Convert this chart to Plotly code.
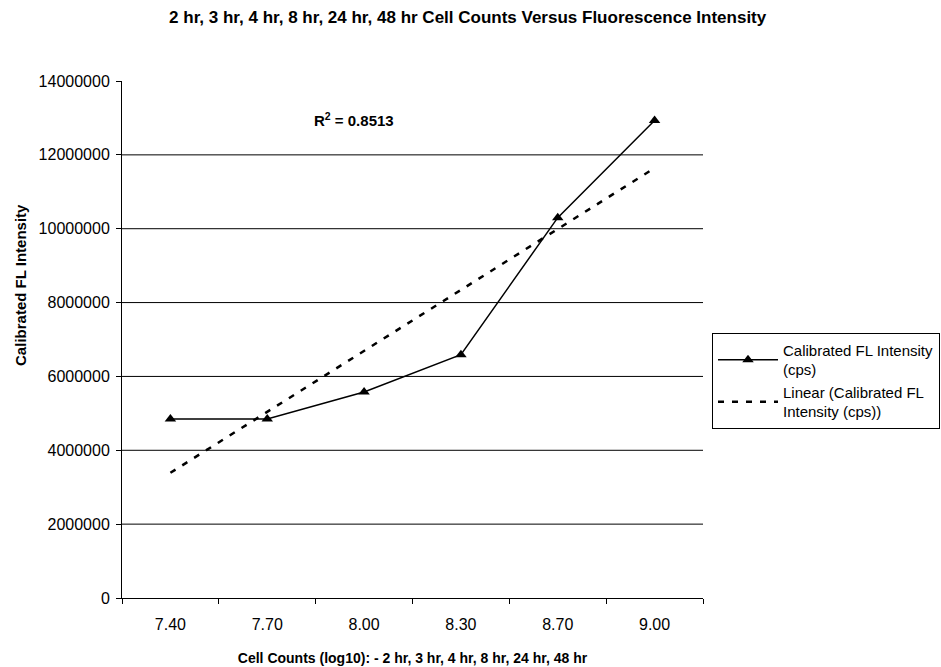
import numpy as np
import plotly.graph_objects as go

categories = ["7.40", "7.70", "8.00", "8.30", "8.70", "9.00"]
intensity = [4850000, 4850000, 5580000, 6590000, 10300000, 12930000]
y_ticks = [0, 2000000, 4000000, 6000000, 8000000, 10000000, 12000000, 14000000]
grid_values = [2000000, 4000000, 6000000, 8000000, 10000000, 12000000]
r2_label = "0.8513"

idx = np.arange(1, len(intensity) + 1)
slope, intercept = np.polyfit(idx, intensity, 1)
trend = slope * idx + intercept

font = "Arial, Liberation Sans, Helvetica, sans-serif"

fig = go.Figure()
fig.add_trace(go.Scatter(
    x=categories, y=intensity, mode="lines+markers",
    name="Calibrated FL Intensity<br>(cps)",
    line=dict(color="black", width=1.5),
    marker=dict(symbol="triangle-up", size=10, color="black"),
))
fig.add_trace(go.Scatter(
    x=categories, y=trend, mode="lines",
    name="Linear (Calibrated FL<br>Intensity (cps))",
    line=dict(color="black", width=2.5, dash="6px,8px"),
))

for g in grid_values:
    fig.add_shape(type="line", xref="paper", x0=0, x1=1, yref="y", y0=g, y1=g,
                  line=dict(color="black", width=1), layer="below")

fig.add_annotation(
    xref="paper", yref="y", x=0.40, y=12950000,
    text="<b>R<sup>2</sup> = " + r2_label + "</b>",
    showarrow=False, font=dict(size=15, color="black", family=font),
)

# y-axis title placed like the reference (above plot centre)
fig.add_annotation(
    xref="paper", yref="paper", x=-0.176, y=0.605, xanchor="center", yanchor="middle",
    text="<b>Calibrated FL Intensity</b>", textangle=-90, showarrow=False,
    font=dict(size=15, color="black", family=font),
)

fig.update_layout(
    width=941, height=667,
    margin=dict(l=122, r=238, t=81, b=69, autoexpand=False),
    paper_bgcolor="white", plot_bgcolor="white",
    font=dict(family=font, size=15, color="black"),
    title=dict(
        text="<b>2 hr, 3 hr, 4 hr, 8 hr, 24 hr, 48 hr Cell Counts Versus Fluorescence Intensity</b>",
        x=0.497, xanchor="center", y=0.975, yanchor="middle",
        font=dict(size=17, family=font, color="black"),
    ),
    showlegend=True,
    legend=dict(
        x=1.0155, y=0.513, xanchor="left", yanchor="top",
        bordercolor="black", borderwidth=1, bgcolor="white",
        font=dict(size=15, family=font, color="black"),
        itemwidth=60, tracegroupgap=6,
    ),
    xaxis=dict(
        type="category", range=[-0.5, 5.5], showgrid=False, showline=True,
        linecolor="black", linewidth=1,
        ticks="outside", tickson="boundaries", ticklen=5, tickcolor="black",
        tickfont=dict(size=16), zeroline=False, ticklabelstandoff=12,
        title=dict(text="<b>Cell Counts (log10): - 2 hr, 3 hr, 4 hr, 8 hr, 24 hr, 48 hr</b>",
                   font=dict(size=14), standoff=20),
    ),
    yaxis=dict(
        range=[0, 14000000], tickvals=y_ticks, ticktext=[str(v) for v in y_ticks],
        showgrid=False, showline=True, linecolor="black", linewidth=1,
        ticks="outside", ticklen=5, tickcolor="black", zeroline=False,
        tickfont=dict(size=16), ticklabelstandoff=3,
    ),
)

fig.write_html("out.html")
